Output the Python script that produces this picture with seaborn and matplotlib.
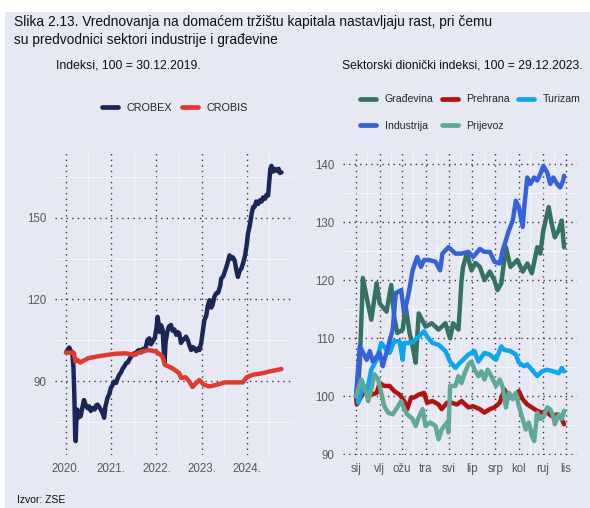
import numpy as np
import pandas as pd
import matplotlib
matplotlib.use("Agg")
import matplotlib.pyplot as plt
import seaborn as sns
from matplotlib.patches import Rectangle
from matplotlib.lines import Line2D

# ---------------- data: left panel (index, 100 = 30.12.2019) ----------------
crobex_dates = [
    "2020-01-02", "2020-01-15", "2020-01-28", "2020-02-10", "2020-02-21", "2020-03-02",
    "2020-03-09", "2020-03-16", "2020-03-20", "2020-03-26", "2020-04-02", "2020-04-10",
    "2020-04-20", "2020-04-29", "2020-05-12", "2020-05-26", "2020-06-10", "2020-06-25",
    "2020-07-06", "2020-07-20", "2020-08-02", "2020-08-20", "2020-09-01", "2020-09-12",
    "2020-09-25", "2020-10-09", "2020-10-25", "2020-11-05", "2020-11-15", "2020-12-02",
    "2020-12-15", "2020-12-29", "2021-01-12", "2021-01-25", "2021-02-10", "2021-02-22",
    "2021-03-07", "2021-03-20", "2021-04-03", "2021-04-16", "2021-05-01", "2021-05-15",
    "2021-05-27", "2021-06-10", "2021-06-25", "2021-07-06", "2021-07-20", "2021-08-01",
    "2021-08-15", "2021-09-01", "2021-09-15", "2021-09-25", "2021-10-09", "2021-10-20",
    "2021-11-05", "2021-11-18", "2021-12-02", "2021-12-20", "2022-01-03", "2022-01-11",
    "2022-01-20", "2022-01-28", "2022-02-08", "2022-02-21", "2022-03-03", "2022-03-08",
    "2022-03-16", "2022-03-30", "2022-04-12", "2022-04-29", "2022-05-12", "2022-05-26",
    "2022-06-10", "2022-06-22", "2022-07-05", "2022-07-19", "2022-08-01", "2022-08-15",
    "2022-08-29", "2022-09-12", "2022-09-26", "2022-10-09", "2022-10-22", "2022-11-05",
    "2022-11-20", "2022-12-05", "2022-12-15", "2022-12-29", "2023-01-10", "2023-01-24",
    "2023-02-08", "2023-02-20", "2023-03-07", "2023-03-20", "2023-03-31", "2023-04-15",
    "2023-04-29", "2023-05-15", "2023-06-01", "2023-06-09", "2023-06-25", "2023-07-14",
    "2023-07-28", "2023-08-15", "2023-08-28", "2023-09-10", "2023-09-25", "2023-10-08",
    "2023-10-22", "2023-11-05", "2023-11-20", "2023-12-02", "2023-12-18", "2024-01-01",
    "2024-01-11", "2024-01-25", "2024-02-08", "2024-02-21", "2024-03-05", "2024-03-18",
    "2024-04-02", "2024-04-18", "2024-05-01", "2024-05-12", "2024-05-28", "2024-06-10",
    "2024-06-22", "2024-07-01", "2024-07-10", "2024-07-19", "2024-08-01", "2024-08-15",
    "2024-08-29", "2024-09-15", "2024-09-25", "2024-10-08"]
crobex_values = [
    100.5, 101.5, 102.3, 101.0, 100.5, 95.0,
    85.0, 70.0, 67.9, 76.0, 79.5, 76.5,
    78.5, 77.0, 80.0, 83.0, 81.0, 80.0,
    80.7, 79.0, 80.1, 79.5, 81.0, 81.3,
    80.5, 79.5, 78.0, 76.5, 80.5, 83.8,
    85.0, 87.4, 88.5, 89.8, 89.3, 91.0,
    92.3, 93.0, 94.5, 95.3, 96.5, 96.8,
    97.8, 99.0, 99.5, 100.2, 99.8, 101.0,
    101.4, 100.5, 101.8, 101.0, 102.6, 105.0,
    105.7, 103.5, 104.5, 106.0, 110.0, 113.6,
    111.0, 108.0, 110.5, 108.8, 100.0, 96.7,
    104.0, 108.0, 110.0, 110.6, 108.5, 109.0,
    107.0, 108.0, 107.5, 104.0, 105.0, 105.5,
    106.3, 105.0, 103.0, 101.4, 102.5, 102.0,
    101.0, 102.0, 101.4, 104.0, 108.0, 112.4,
    114.0, 117.5, 119.7, 117.0, 118.0, 121.0,
    122.2, 122.5, 125.0, 127.7, 128.5, 131.0,
    133.0, 136.2, 135.0, 135.5, 134.4, 131.0,
    128.3, 130.5, 131.5, 133.2, 136.0, 140.0,
    144.1, 147.0, 151.0, 153.9, 154.0, 156.0,
    155.1, 156.5, 156.0, 157.5, 157.0, 158.5,
    158.2, 163.0, 168.0, 169.1, 167.0, 168.0,
    167.3, 168.0, 166.5, 166.7]

crobis_dates = ["2020-01-02", "2020-03-05", "2020-03-18", "2020-04-01", "2020-04-25",
                "2020-07-01", "2020-10-01", "2021-02-01", "2021-04-30", "2021-07-01",
                "2021-09-01", "2021-11-01", "2022-01-01", "2022-02-20", "2022-03-10",
                "2022-05-10", "2022-07-05", "2022-07-20", "2022-08-25", "2022-09-25",
                "2022-10-20", "2022-11-18", "2022-12-15", "2023-01-20", "2023-03-07",
                "2023-04-30", "2023-07-10", "2023-10-08", "2023-12-01", "2024-01-01",
                "2024-02-20", "2024-05-10", "2024-07-01", "2024-10-08"]
crobis_values = [100.4, 100.4, 97.2, 97.8, 96.8,
                 98.4, 99.2, 100.0, 100.2, 99.6,
                 100.8, 101.4, 100.8, 99.0, 96.0,
                 94.7, 92.9, 91.1, 91.4, 89.8,
                 87.8, 89.2, 90.4, 88.6, 88.0,
                 88.6, 89.5, 89.5, 89.5, 91.4,
                 92.3, 92.9, 93.5, 94.4]

left_names = ["CROBEX", "CROBIS"]
left_colors = ["#1b2657", "#df3a2f"]
year_labels = ["2020.", "2021.", "2022.", "2023.", "2024."]

# ---------------- data: right panel (days since 1.1.2024) ----------------
gradevina_day = [0, 3, 5, 9, 14, 20, 27, 31, 40, 46, 50, 54, 61, 65, 70, 74, 78, 82, 91, 99,
                 108, 117, 123, 127, 134, 138, 140, 145, 151, 156, 162, 168, 175, 181, 185,
                 190, 196, 202, 211, 218, 224, 230, 237, 241, 245, 252, 256, 260, 265, 269, 272]
gradevina_val = [100.0, 102.0, 106.0, 120.4, 117.0, 113.2, 119.5, 116.0, 114.6, 119.2, 113.7,
                 110.9, 111.5, 115.5, 111.0, 108.6, 105.8, 114.3, 112.0, 112.6,
                 111.5, 112.6, 110.0, 112.6, 111.5, 120.0, 122.3, 124.6, 121.7, 123.0,
                 122.3, 120.0, 121.5, 120.0, 118.3, 119.5, 125.7, 122.3, 123.5, 121.5,
                 122.9, 121.2, 125.7, 124.6, 128.6, 132.6, 129.7, 127.4, 128.6, 130.3, 125.7]

prehrana_day = [0, 1, 7, 14, 20, 27, 31, 37, 44, 50, 57, 63, 67, 72, 76, 82, 89, 93, 100, 108,
                112, 119, 125, 132, 138, 147, 153, 162, 168, 175, 181, 188, 194, 200, 207,
                213, 218, 224, 230, 237, 243, 250, 256, 263, 269, 272]
prehrana_val = [100.0, 98.6, 100.0, 101.5, 100.3, 100.6, 102.3, 101.8, 101.8, 100.9, 100.3,
                99.2, 97.8, 99.8, 99.8, 100.3, 100.6, 98.9, 99.2, 98.6,
                97.8, 98.9, 98.9, 98.6, 99.2, 98.1, 98.3, 97.8, 97.2, 97.8,
                98.1, 98.9, 101.2, 99.8, 100.1, 100.9, 99.5, 98.6, 98.1, 97.5,
                97.2, 97.2, 96.6, 96.9, 96.1, 95.2]

turizam_day = [0, 1, 3, 9, 14, 20, 27, 33, 40, 44, 50, 57, 61, 63, 72, 80, 89, 93, 100, 108,
               117, 123, 130, 136, 147, 155, 160, 168, 175, 183, 190, 194, 202, 209, 213,
               220, 224, 230, 237, 243, 250, 258, 265, 269, 272]
turizam_val = [100.0, 101.0, 98.9, 101.8, 100.6, 104.6, 106.3, 109.2, 108.0, 107.5, 109.5,
               109.5, 106.3, 109.2, 109.2, 110.0, 111.2, 110.3, 109.2, 108.9,
               107.8, 106.0, 104.9, 105.8, 107.2, 107.8, 106.0, 107.5, 107.2, 106.3,
               108.6, 108.0, 107.8, 107.2, 105.8, 105.2, 105.5, 104.6, 103.5, 104.3,
               104.6, 104.3, 104.0, 104.9, 104.3]

industrija_day = [0, 5, 14, 18, 22, 31, 35, 42, 48, 52, 59, 63, 69, 74, 80, 85, 89, 95, 104,
                  110, 113, 121, 130, 138, 147, 153, 162, 168, 175, 181, 188, 192, 200, 205,
                  209, 213, 218, 220, 224, 228, 233, 237, 241, 245, 250, 254, 258, 263, 267,
                  271, 272]
industrija_val = [100.0, 108.6, 106.3, 107.8, 106.0, 107.5, 105.2, 108.6, 111.5, 117.8,
                  118.3, 114.3, 117.8, 121.7, 124.0, 122.3, 123.5, 123.5, 123.2,
                  121.7, 124.6, 125.7, 124.6, 124.6, 124.9, 124.0, 125.4, 124.9, 124.9,
                  123.2, 122.9, 125.2, 128.6, 130.3, 133.7, 132.6, 129.2, 132.6, 137.7,
                  136.6, 137.7, 137.2, 138.3, 139.7, 138.6, 136.6, 137.7, 136.6, 136.0,
                  137.2, 138.0]

prijevoz_day = [0, 3, 7, 12, 16, 20, 24, 29, 33, 37, 42, 48, 54, 59, 63, 67, 74, 78, 82, 87,
                91, 97, 104, 108, 112, 119, 121, 123, 130, 134, 138, 142, 147, 151, 155,
                160, 164, 168, 172, 177, 183, 188, 192, 196, 200, 205, 209, 213, 218, 222,
                226, 230, 233, 237, 241, 245, 250, 254, 258, 260, 265, 269, 272]
prijevoz_val = [100.0, 101.2, 102.9, 101.2, 99.2, 101.2, 103.8, 102.9, 100.6, 98.3,
                97.2, 96.9, 98.1, 99.2, 97.8, 96.9, 96.1, 94.9, 96.4, 97.8,
                94.9, 95.5, 94.9, 92.6, 94.3, 95.5, 93.8, 101.8, 101.8, 103.5,
                102.3, 104.0, 105.5, 106.0, 104.6, 103.5, 104.3, 102.9, 104.6, 103.5,
                101.8, 102.9, 101.5, 98.1, 100.6, 99.5, 100.6, 98.3, 96.1, 94.3,
                95.5, 93.2, 92.3, 97.2, 96.1, 96.4, 98.1, 97.8, 96.6, 95.2,
                96.9, 96.1, 97.5]

right_names = ["Građevina", "Prehrana", "Turizam", "Industrija", "Prijevoz"]
right_colors = ["#357262", "#b3110f", "#0ba6ef", "#3561da", "#60a898"]
month_labels = ["sij", "vlj", "ožu", "tra", "svi", "lip", "srp", "kol", "ruj", "lis"]

# ---------------- build tables ----------------
left_df = pd.concat([
    pd.DataFrame({"date": pd.to_datetime(crobex_dates), "value": crobex_values, "series": left_names[0]}),
    pd.DataFrame({"date": pd.to_datetime(crobis_dates), "value": crobis_values, "series": left_names[1]}),
], ignore_index=True)

base = pd.Timestamp("2024-01-01")
r_days = [gradevina_day, prehrana_day, turizam_day, industrija_day, prijevoz_day]
r_vals = [gradevina_val, prehrana_val, turizam_val, industrija_val, prijevoz_val]
right_df = pd.concat([
    pd.DataFrame({"date": base + pd.to_timedelta(d, unit="D"), "value": v, "series": n})
    for d, v, n in zip(r_days, r_vals, right_names)
], ignore_index=True)

# ---------------- style ----------------
sns.set_theme(style="white")
plt.rcParams["font.family"] = ["Liberation Sans", "DejaVu Sans"]

BG = "#e6e8f4"
W, H = 590, 508
fig = plt.figure(figsize=(W / 100, H / 100), dpi=100)
fig.patch.set_facecolor("white")
fig.add_artist(Rectangle((5 / W, 0), 1, (H - 12) / H, transform=fig.transFigure,
                         facecolor=BG, edgecolor="none", zorder=-10))

ax1 = fig.add_axes([55 / W, 53 / H, 237 / W, 303 / H])
ax2 = fig.add_axes([343 / W, 53 / H, 234 / W, 303 / H])

LW = 3.2
sns.lineplot(data=left_df, x="date", y="value", hue="series", hue_order=left_names,
             palette=left_colors, linewidth=LW, ax=ax1, legend=False, estimator=None, sort=False)
sns.lineplot(data=right_df, x="date", y="value", hue="series", hue_order=right_names,
             palette=right_colors, linewidth=LW, ax=ax2, legend=False, estimator=None, sort=False)

for ax in (ax1, ax2):
    ax.set_facecolor("none")
    for s in ax.spines.values():
        s.set_visible(False)
    ax.set_xlabel("")
    ax.set_ylabel("")
    ax.tick_params(which="both", length=0, labelsize=8.3, labelcolor="#595959", pad=6)
    ax.grid(which="major", color="#3a3a3a", linestyle=(0, (1, 3)), linewidth=1.0)
    ax.grid(which="minor", color="white", linestyle="-", linewidth=0.6, alpha=0.7)
    ax.set_axisbelow(True)

# left axes
ax1.set_ylim(62.8, 174.2)
ax1.set_yticks([90, 120, 150])
ax1.set_yticks([75, 105, 135, 165], minor=True)
ax1.set_xlim(pd.Timestamp("2019-10-05"), pd.Timestamp("2025-01-01"))
year_ticks = pd.to_datetime([f"{y[:4]}-01-01" for y in year_labels])
ax1.set_xticks(year_ticks)
ax1.set_xticklabels(year_labels)
ax1.set_xticks(pd.to_datetime([f"{y[:4]}-07-01" for y in year_labels]), minor=True)
ax1.tick_params(axis="x", which="minor", labelbottom=False)

# right axes
ax2.set_ylim(89.9, 142.1)
ax2.set_yticks([90, 100, 110, 120, 130, 140])
ax2.set_yticks([95, 105, 115, 125, 135], minor=True)
ax2.set_xlim(pd.Timestamp("2023-12-15"), pd.Timestamp("2024-10-11"))
month_ticks = pd.date_range("2024-01-01", periods=len(month_labels), freq="MS")
ax2.set_xticks(month_ticks)
ax2.set_xticklabels(month_labels)
ax2.set_xticks(month_ticks + pd.Timedelta(days=15), minor=True)
ax2.tick_params(axis="x", which="minor", labelbottom=False)

# legends
lh = [Line2D([], [], color=c, lw=3.4) for c in left_colors]
fig.legend(lh, left_names, loc="center", bbox_to_anchor=(175 / W, 1 - 108 / H),
           ncol=2, frameon=False, fontsize=7.8, handlelength=1.5, handletextpad=0.8,
           columnspacing=0.9, borderpad=0)
# matplotlib fills legend columns first; order so rows read as in the reference
order = [0, 3, 1, 4, 2]
rh = [Line2D([], [], color=right_colors[i], lw=3.4) for i in order]
fig.legend(rh, [right_names[i] for i in order], loc="upper left",
           bbox_to_anchor=(355 / W, 1 - 89 / H),
           ncol=3, frameon=False, fontsize=7.6, handlelength=1.5, handletextpad=0.8,
           columnspacing=0.8, labelspacing=1.6, borderpad=0)

# texts
fig.text(14 / W, 1 - 22 / H, "Slika 2.13. Vrednovanja na domaćem tržištu kapitala nastavljaju rast, pri čemu",
         fontsize=9.9, va="center", ha="left", color="#111111")
fig.text(14 / W, 1 - 40 / H, "su predvodnici sektori industrije i građevine",
         fontsize=9.9, va="center", ha="left", color="#111111")
fig.text(56 / W, 1 - 66 / H, "Indeksi, 100 = 30.12.2019.", fontsize=8.8, va="center", color="#111111")
fig.text(342 / W, 1 - 66 / H, "Sektorski dionički indeksi, 100 = 29.12.2023.", fontsize=8.7,
         va="center", color="#111111")
fig.text(17 / W, 1 - 500 / H, "Izvor: ZSE", fontsize=7.5, va="center", color="#111111")

fig.savefig("out.png", dpi=100, facecolor=fig.get_facecolor())
